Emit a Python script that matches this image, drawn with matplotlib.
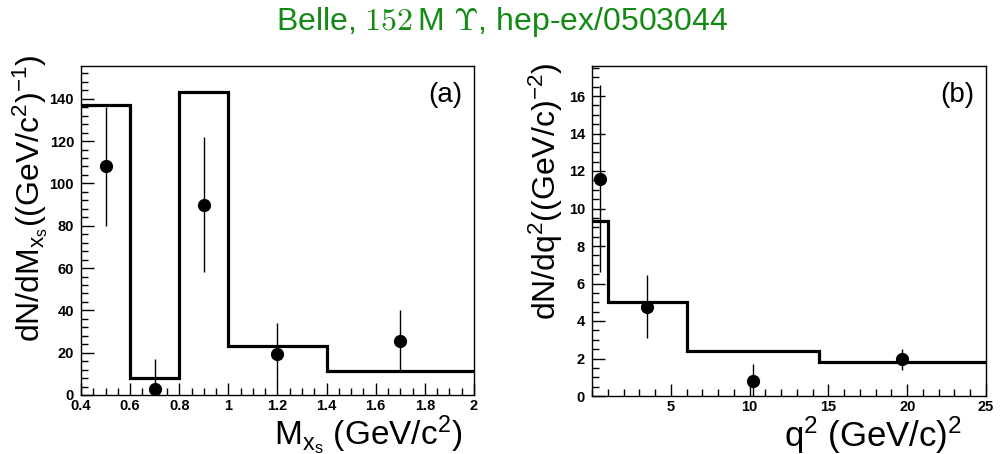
import matplotlib
matplotlib.use("Agg")
import matplotlib.pyplot as plt
from matplotlib.ticker import MultipleLocator

plt.rcParams['font.family'] = ['Liberation Sans', 'DejaVu Sans']
plt.rcParams['mathtext.fontset'] = 'custom'
plt.rcParams['mathtext.rm'] = 'Liberation Sans'
plt.rcParams['mathtext.it'] = 'Liberation Sans'

# panel (a): M_Xs
mx_edges = [0.4, 0.6, 0.8, 1.0, 1.4, 2.0]
mx_hist = [137, 8, 143, 23, 11.5]
mx_x = [0.5, 0.7, 0.9, 1.2, 1.7]
mx_y = [108, 3, 90, 19.5, 25.5]
mx_lo = [28, 14, 32, 14.5, 14.5]
mx_hi = [28, 14, 32, 14.5, 14.5]
mx_ticks = [0.4, 0.6, 0.8, 1.0, 1.2, 1.4, 1.6, 1.8, 2.0]
mx_ticklabels = ['0.4', '0.6', '0.8', '1', '1.2', '1.4', '1.6', '1.8', '2']

# panel (b): q^2
q2_edges = [0, 1, 6, 14.4, 25]
q2_hist = [9.35, 5.0, 2.4, 1.8]
q2_x = [0.5, 3.5, 10.2, 19.7]
q2_y = [11.6, 4.75, 0.8, 1.95]
q2_lo = [5.0, 1.65, 0.9, 0.55]
q2_hi = [5.0, 1.7, 0.9, 0.55]
q2_ticks = [5, 10, 15, 20, 25]

W, H = 1004, 454
fig = plt.figure(figsize=(W / 100, H / 100), dpi=100)
ax1 = fig.add_axes([81 / W, (H - 395) / H, 393 / W, 329 / H])
ax2 = fig.add_axes([592 / W, (H - 396) / H, 394 / W, 330 / H])


def style(ax):
    for s in ax.spines.values():
        s.set_linewidth(1.0)
    ax.tick_params(which='both', direction='in', top=False, right=False,
                   labelsize=10.5, width=1.0)
    ax.tick_params(which='major', length=9)
    ax.tick_params(which='minor', length=5)
    ax.tick_params(axis='x', pad=3)
    ax.tick_params(axis='y', pad=5)
    for lab in ax.get_xticklabels() + ax.get_yticklabels():
        lab.set_fontweight('bold')


# (a)
ax1.stairs(mx_hist, mx_edges, baseline=None, color='black', lw=2.3)
ax1.errorbar(mx_x, mx_y, yerr=[mx_lo, mx_hi], fmt='o', color='black',
             ms=8.5, elinewidth=1.0, capsize=0)
ax1.set_xticks(mx_ticks)
ax1.set_xticklabels(mx_ticklabels)
ax1.xaxis.set_minor_locator(MultipleLocator(0.05))
ax1.yaxis.set_major_locator(MultipleLocator(20))
ax1.yaxis.set_minor_locator(MultipleLocator(4))
ax1.set_xlim(0.4, 2.0)
ax1.set_ylim(0, 155.5)
style(ax1)
ax1.set_xlabel(r'M$_{\mathrm{x_s}}$ (GeV/c$^{2}$)', fontsize=24, loc='right', labelpad=0)
ax1.xaxis.set_label_coords(1 - 12 / 393, -0.057)
ax1.set_ylabel(r'dN/dM$_{\mathrm{x_s}}$((GeV/c$^{2}$)$^{-1}$)', fontsize=23, loc='top')
ax1.yaxis.set_label_coords(-0.078, 1 + 11 / 329)
ax1.text(0.97, 0.95, '(a)', transform=ax1.transAxes, ha='right', va='top', fontsize=20)

# (b)
ax2.stairs(q2_hist, q2_edges, baseline=None, color='black', lw=2.3)
ax2.errorbar(q2_x, q2_y, yerr=[q2_lo, q2_hi], fmt='o', color='black',
             ms=8.5, elinewidth=1.0, capsize=0)
ax2.set_xticks(q2_ticks)
ax2.set_xticklabels([str(t) for t in q2_ticks])
ax2.xaxis.set_minor_locator(MultipleLocator(1))
ax2.yaxis.set_major_locator(MultipleLocator(2))
ax2.yaxis.set_minor_locator(MultipleLocator(0.5))
ax2.set_xlim(0, 25)
ax2.set_ylim(0, 17.6)
style(ax2)
ax2.set_xlabel(r'q$^{2}$ (GeV/c)$^{2}$', fontsize=25, loc='right', labelpad=0)
ax2.xaxis.set_label_coords(1 - 24 / 394, -0.055)
ax2.set_ylabel(r'dN/dq$^{2}$((GeV/c)$^{-2}$)', fontsize=23, loc='top')
ax2.yaxis.set_label_coords(-0.068, 1 + 3 / 330)
ax2.text(0.97, 0.95, '(b)', transform=ax2.transAxes, ha='right', va='top', fontsize=20)

fig.text(0.5, 0.952, r'Belle, $152\,$M $\Upsilon$, hep-ex/0503044', ha='center', va='center',
         fontsize=23, color='#138a13', math_fontfamily='cm')

fig.savefig('out.png', dpi=100)
